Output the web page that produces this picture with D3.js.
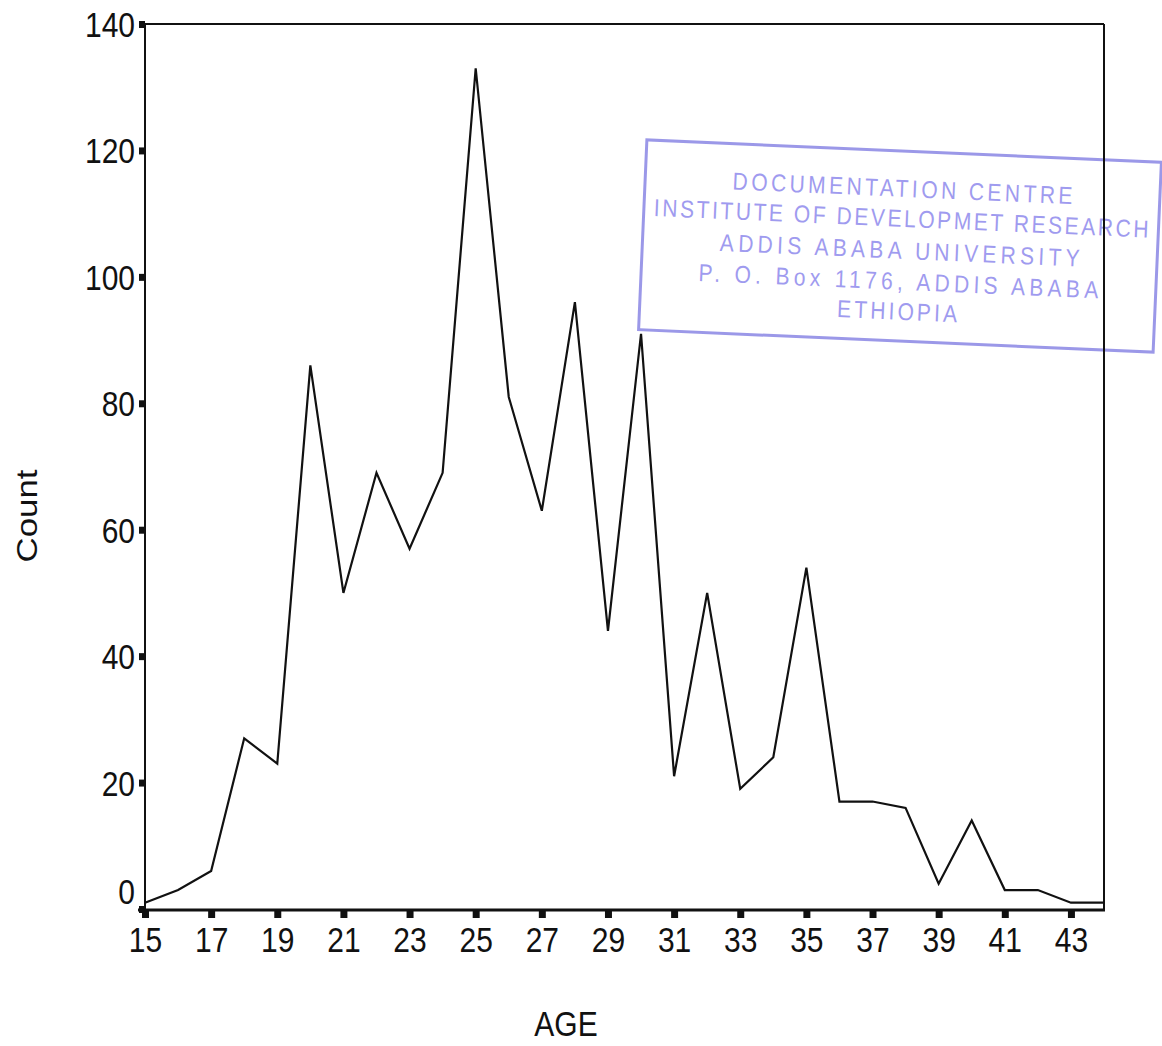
<!DOCTYPE html>
<html>
<head>
<meta charset="utf-8">
<script src="https://cdn.jsdelivr.net/npm/d3@7"></script>
<style>
  html, body { margin: 0; padding: 0; background: #fff; }
  svg { display: block; }
  text { font-family: "Liberation Sans", Arial, Helvetica, sans-serif; fill: #111; }
</style>
</head>
<body>
<svg id="chart" width="1162" height="1046"></svg>
<script>
// ---- data ----
const ages = [15, 16, 17, 18, 19, 20, 21, 22, 23, 24, 25, 26, 27, 28, 29,
              30, 31, 32, 33, 34, 35, 36, 37, 38, 39, 40, 41, 42, 43, 44];
const counts = [1, 3, 6, 27, 23, 86, 50, 69, 57, 69, 133, 81, 63, 96, 44,
                91, 21, 50, 19, 24, 54, 17, 17, 16, 4, 14, 3, 3, 1, 1];
const xTickLabels = [15, 17, 19, 21, 23, 25, 27, 29, 31, 33, 35, 37, 39, 41, 43];
const yTickLabels = [0, 20, 40, 60, 80, 100, 120, 140];
const xTitle = "AGE";
const yTitle = "Count";
const stampLines = [
  "DOCUMENTATION  CENTRE",
  "INSTITUTE OF DEVELOPMET RESEARCH",
  "ADDIS  ABABA  UNIVERSITY",
  "P. O. Box 1176, ADDIS  ABABA",
  "ETHIOPIA"
];

// ---- layout ----
const SY = 1.16;           // vertical stretch of the scanned page
const FS = 30;
const pLeft = 145, pRight = 1104, pTop = 24, pBottom = 909;

const svg = d3.select("#chart");

const x = d3.scaleLinear().domain([15, 44]).range([pLeft, pRight]);
const y = d3.scaleLinear().domain([0, 140]).range([pBottom, pTop]);

// ---- stamp (drawn under the chart) ----
const stampW = 515, stampH = 190;
const stamp = svg.append("g")
  .attr("transform", "translate(900,246) rotate(2.5)");
stamp.append("rect")
  .attr("x", -stampW / 2).attr("y", -stampH / 2)
  .attr("width", stampW).attr("height", stampH)
  .attr("fill", "none")
  .attr("stroke", "#8a86e4")
  .attr("stroke-width", 3)
  .attr("opacity", 0.85);
const stampOffsets = [-58, -28, 4, 35, 65];
const stampLens = [340, 495, 360, 400, 120];
stamp.selectAll("text.stamp")
  .data(stampLines)
  .enter().append("text")
  .attr("class", "stamp")
  .attr("text-anchor", "middle")
  .attr("x", 0)
  .attr("y", 0)
  .attr("dy", "0.36em")
  .attr("transform", (d, i) => `translate(0,${stampOffsets[i]}) scale(1,${SY})`)
  .attr("textLength", (d, i) => stampLens[i])
  .attr("lengthAdjust", "spacing")
  .style("font-size", "21px")
  .style("fill", "#9f9bef")
  .text(d => d);

// ---- frame (top + right) ----
svg.append("line").attr("x1", pLeft).attr("x2", pRight).attr("y1", pTop).attr("y2", pTop)
  .attr("stroke", "#111").attr("stroke-width", 2);
svg.append("line").attr("x1", pRight).attr("x2", pRight).attr("y1", pTop).attr("y2", pBottom + 1)
  .attr("stroke", "#111").attr("stroke-width", 2);

// ---- y axis ----
const yAxis = svg.append("g")
  .attr("transform", `translate(${pLeft},0)`)
  .call(d3.axisLeft(y).tickValues(yTickLabels).tickSize(6).tickPadding(4).tickFormat(d3.format("d")));
yAxis.select(".domain").remove();
yAxis.selectAll(".tick line").attr("stroke", "#111").attr("stroke-width", 7);
yAxis.selectAll(".tick text")
  .attr("x", 0).attr("dy", "0.36em")
  .attr("transform", d => `translate(-10,${d === 0 ? -18 : 0}) scale(1,${SY})`)
  .style("font-size", FS + "px");
svg.append("line").attr("x1", pLeft).attr("x2", pLeft).attr("y1", pTop - 1).attr("y2", pBottom + 2)
  .attr("stroke", "#111").attr("stroke-width", 2);

// ---- x axis ----
const xAxis = svg.append("g")
  .attr("transform", `translate(0,${pBottom + 1})`)
  .call(d3.axisBottom(x).tickValues(xTickLabels).tickSize(8).tickFormat(d3.format("d")));
xAxis.select(".domain").remove();
xAxis.selectAll(".tick line").attr("stroke", "#111").attr("stroke-width", 7);
xAxis.selectAll(".tick text")
  .attr("y", 0).attr("dy", 0)
  .attr("transform", `translate(0,42) scale(1,${SY})`)
  .style("font-size", FS + "px");
svg.append("line").attr("x1", pLeft - 7).attr("x2", pRight + 1).attr("y1", pBottom + 1).attr("y2", pBottom + 1)
  .attr("stroke", "#111").attr("stroke-width", 3);

// ---- line ----
const line = d3.line()
  .x((d, i) => x(ages[i]))
  .y(d => y(d));
svg.append("path")
  .datum(counts)
  .attr("d", line)
  .attr("fill", "none")
  .attr("stroke", "#111")
  .attr("stroke-width", 2.2)
  .attr("stroke-linejoin", "miter");

// ---- titles ----
svg.append("text")
  .attr("text-anchor", "middle")
  .attr("transform", `translate(566,1036) scale(1,${SY})`)
  .style("font-size", FS + "px")
  .text(xTitle);
svg.append("text")
  .attr("text-anchor", "middle")
  .attr("transform", `translate(37,516) scale(1,${SY}) rotate(-90)`)
  .style("font-size", FS + "px")
  .text(yTitle);
</script>
</body>
</html>
